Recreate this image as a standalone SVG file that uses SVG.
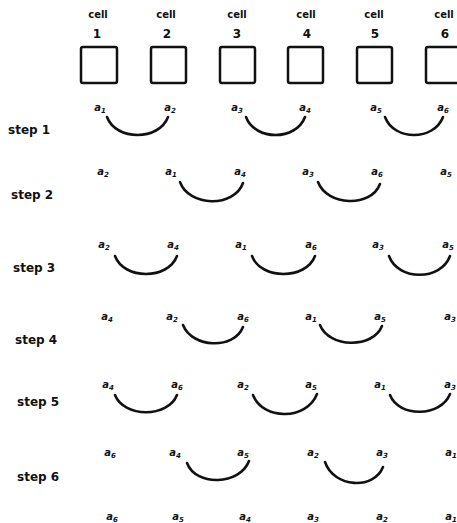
<svg xmlns="http://www.w3.org/2000/svg" width="457" height="523" viewBox="0 0 457 523">
<style>
.bg{fill:#fff}
.hd{font-family:"DejaVu Sans",sans-serif;font-weight:bold;font-size:10px;fill:#111;text-anchor:middle}
.num{font-family:"DejaVu Sans",sans-serif;font-weight:bold;font-size:12px;fill:#111;text-anchor:middle}
.box{fill:none;stroke:#111;stroke-width:2.5;rx:2}
.step{font-family:"DejaVu Sans",sans-serif;font-weight:bold;font-size:12px;fill:#111}
.a{font-family:"DejaVu Sans",sans-serif;font-weight:bold;font-style:italic;font-size:10px;fill:#111;text-anchor:middle}
.sub{font-size:7px}
.arc{fill:none;stroke:#111;stroke-width:2.6;stroke-linecap:round}
</style>
<rect class="bg" x="0" y="0" width="457" height="523"/>

<g id="cell1"><text class="hd" x="98" y="18">cell</text><text class="num" x="97" y="38">1</text><rect class="box" x="81" y="47" width="36" height="36"/></g>
<g id="cell2"><text class="hd" x="166" y="18">cell</text><text class="num" x="167" y="38">2</text><rect class="box" x="151" y="47" width="35" height="36"/></g>
<g id="cell3"><text class="hd" x="237" y="18">cell</text><text class="num" x="237" y="38">3</text><rect class="box" x="220" y="47" width="35" height="36"/></g>
<g id="cell4"><text class="hd" x="306" y="18">cell</text><text class="num" x="307" y="38">4</text><rect class="box" x="288" y="47" width="35" height="36"/></g>
<g id="cell5"><text class="hd" x="374" y="18">cell</text><text class="num" x="375" y="38">5</text><rect class="box" x="357" y="47" width="35" height="36"/></g>
<g id="cell6"><text class="hd" x="444" y="18">cell</text><text class="num" x="445" y="38">6</text><rect class="box" x="426" y="47" width="36" height="36"/></g>

<g id="step-labels">
<text class="step" x="8" y="134">step 1</text>
<text class="step" x="11" y="199">step 2</text>
<text class="step" x="13" y="272">step 3</text>
<text class="step" x="15" y="344">step 4</text>
<text class="step" x="17" y="406">step 5</text>
<text class="step" x="17" y="481">step 6</text>
</g>

<g id="row1">
<text class="a" x="100" y="111">a<tspan class="sub" dy="2">1</tspan></text>
<text class="a" x="170" y="111">a<tspan class="sub" dy="2">2</tspan></text>
<text class="a" x="237" y="111">a<tspan class="sub" dy="2">3</tspan></text>
<text class="a" x="305" y="111">a<tspan class="sub" dy="2">4</tspan></text>
<text class="a" x="376" y="111">a<tspan class="sub" dy="2">5</tspan></text>
<text class="a" x="443" y="111">a<tspan class="sub" dy="2">6</tspan></text>
</g>
<g id="row2">
<text class="a" x="103" y="175">a<tspan class="sub" dy="2">2</tspan></text>
<text class="a" x="171" y="175">a<tspan class="sub" dy="2">1</tspan></text>
<text class="a" x="240" y="175">a<tspan class="sub" dy="2">4</tspan></text>
<text class="a" x="308" y="175">a<tspan class="sub" dy="2">3</tspan></text>
<text class="a" x="377" y="175">a<tspan class="sub" dy="2">6</tspan></text>
<text class="a" x="446" y="175">a<tspan class="sub" dy="2">5</tspan></text>
</g>
<g id="row3">
<text class="a" x="104" y="248">a<tspan class="sub" dy="2">2</tspan></text>
<text class="a" x="173" y="248">a<tspan class="sub" dy="2">4</tspan></text>
<text class="a" x="241" y="248">a<tspan class="sub" dy="2">1</tspan></text>
<text class="a" x="311" y="248">a<tspan class="sub" dy="2">6</tspan></text>
<text class="a" x="378" y="248">a<tspan class="sub" dy="2">3</tspan></text>
<text class="a" x="448" y="248">a<tspan class="sub" dy="2">5</tspan></text>
</g>
<g id="row4">
<text class="a" x="107" y="320">a<tspan class="sub" dy="2">4</tspan></text>
<text class="a" x="172" y="320">a<tspan class="sub" dy="2">2</tspan></text>
<text class="a" x="243" y="320">a<tspan class="sub" dy="2">6</tspan></text>
<text class="a" x="311" y="320">a<tspan class="sub" dy="2">1</tspan></text>
<text class="a" x="380" y="320">a<tspan class="sub" dy="2">5</tspan></text>
<text class="a" x="450" y="320">a<tspan class="sub" dy="2">3</tspan></text>
</g>
<g id="row5">
<text class="a" x="108" y="388">a<tspan class="sub" dy="2">4</tspan></text>
<text class="a" x="177" y="388">a<tspan class="sub" dy="2">6</tspan></text>
<text class="a" x="243" y="388">a<tspan class="sub" dy="2">2</tspan></text>
<text class="a" x="311" y="388">a<tspan class="sub" dy="2">5</tspan></text>
<text class="a" x="380" y="388">a<tspan class="sub" dy="2">1</tspan></text>
<text class="a" x="450" y="388">a<tspan class="sub" dy="2">3</tspan></text>
</g>
<g id="row6">
<text class="a" x="110" y="456">a<tspan class="sub" dy="2">6</tspan></text>
<text class="a" x="175" y="456">a<tspan class="sub" dy="2">4</tspan></text>
<text class="a" x="243" y="456">a<tspan class="sub" dy="2">5</tspan></text>
<text class="a" x="313" y="456">a<tspan class="sub" dy="2">2</tspan></text>
<text class="a" x="382" y="456">a<tspan class="sub" dy="2">3</tspan></text>
<text class="a" x="451" y="456">a<tspan class="sub" dy="2">1</tspan></text>
</g>
<g id="row7">
<text class="a" x="112" y="520">a<tspan class="sub" dy="2">6</tspan></text>
<text class="a" x="178" y="520">a<tspan class="sub" dy="2">5</tspan></text>
<text class="a" x="245" y="520">a<tspan class="sub" dy="2">4</tspan></text>
<text class="a" x="313" y="520">a<tspan class="sub" dy="2">3</tspan></text>
<text class="a" x="382" y="520">a<tspan class="sub" dy="2">2</tspan></text>
<text class="a" x="451" y="520">a<tspan class="sub" dy="2">1</tspan></text>
</g>

<g id="connectors">
<path class="arc" d="M107,117 C116,141 159,141 168,117"/>
<path class="arc" d="M246,117 C255,141 296,141 305,117"/>
<path class="arc" d="M385,117 C394,141 434,141 443,117"/>
<path class="arc" d="M180,182 C189,207 234,208 243,183"/>
<path class="arc" d="M318,182 C327,206 371,208 380,184"/>
<path class="arc" d="M115,256 C124,280 168,280 177,256"/>
<path class="arc" d="M252,256 C261,280 306,280 315,256"/>
<path class="arc" d="M389,256 C398,281 441,281 450,256"/>
<path class="arc" d="M183,325 C192,348 234,350 243,327"/>
<path class="arc" d="M320,325 C329,348 373,349 382,326"/>
<path class="arc" d="M115,395 C124,418 168,418 177,395"/>
<path class="arc" d="M253,395 C263,421 307,420 317,394"/>
<path class="arc" d="M390,395 C399,418 441,417 450,394"/>
<path class="arc" d="M187,463 C196,487 240,485 249,461"/>
<path class="arc" d="M325,462 C334,488 374,490 383,467"/>
</g>
</svg>
